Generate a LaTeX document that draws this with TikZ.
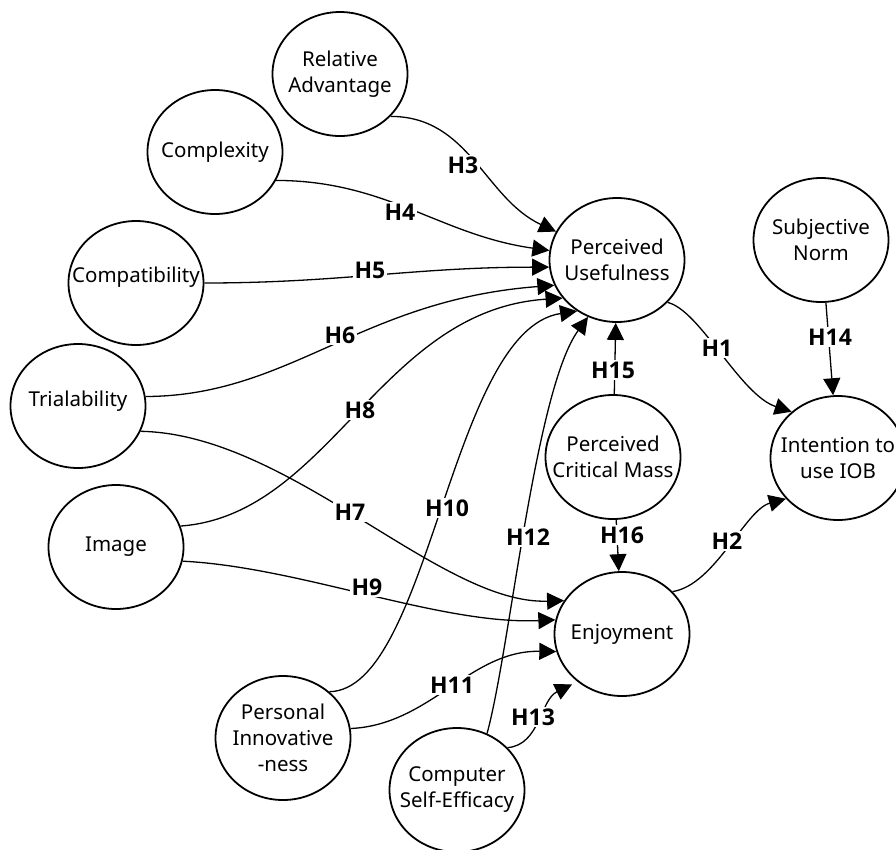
\documentclass[tikz,border=0pt]{standalone}
\usepackage{fontspec}
\setmainfont{Noto Sans}
\newfontfamily\labfont{Open Sans}
\usetikzlibrary{shapes.geometric,arrows.meta}
\begin{document}
\begin{tikzpicture}[x=1pt,y=1pt,
  var/.style={ellipse,draw,line width=1.8pt,minimum width=135pt,minimum height=124pt,inner sep=0pt},
  vtext/.style={align=center,inner sep=0pt,font=\fontsize{20.5}{26}\selectfont},
  hyp/.style={-{Triangle[length=17pt,width=17pt]},line width=1.3pt},
  lab/.style={fill=white,inner sep=1.5pt,font=\labfont\bfseries\fontsize{23}{25}\selectfont}]
\useasboundingbox (0,0) rectangle (896,-849);
% variables
\node[var] (RA) at (340,-74) {};
\node[var] (CX) at (215,-152) {};
\node[var] (CP) at (136,-283) {};
\node[var] (TR) at (78,-406) {};
\node[var] (IM) at (116,-547) {};
\node[var] (PU) at (617,-260) {};
\node[var] (SN) at (821,-240) {};
\node[var] (PCM) at (613,-457) {};
\node[var] (INT) at (838,-458) {};
\node[var] (ENJ) at (622,-634) {};
\node[var] (PI) at (283,-738) {};
\node[var] (CSE) at (457,-790) {};
\node[vtext] (RAt) at (RA) {Relative\\Advantage};
\node[vtext] (CXt) at (CX) {Complexity};
\node[vtext] (CPt) at ([yshift=6pt]CP.center) {Compatibility};
\node[vtext] (TRt) at ([yshift=5pt]TR.center) {Trialability};
\node[vtext] (IMt) at (IM) {Image};
\node[vtext] (PUt) at (PU) {Perceived\\Usefulness};
\node[vtext] (SNt) at (SN) {Subjective\\Norm};
\node[vtext] (PCMt) at (PCM) {Perceived\\Critical Mass};
\node[vtext] (INTt) at (INT) {Intention to\\use IOB};
\node[vtext] (ENJt) at (ENJ) {Enjoyment};
\node[vtext] (PIt) at (PI) {Personal\\Innovative\\-ness};
\node[vtext] (CSEt) at (CSE) {Computer\\Self-Efficacy};
% hypotheses
\draw[hyp] (RA.-40) to[out=0,in=155] (PU.155);
\draw[hyp] (CX.-25) to[out=0,in=172] (PU.172);
\draw[hyp] (CP.east) to[out=0,in=180] (PU.186);
\draw[hyp] (TR.8) .. controls (290,-396) and (360,-300) .. (PU.202);
\draw[hyp] (IM.18) .. controls (330,-515) and (380,-310) .. (PU.215);
\draw[hyp] (TR.-22) .. controls (290,-434) and (440,-605) .. (ENJ.150);
\draw[hyp] (IM.-12) .. controls (300,-567) and (440,-625) .. (ENJ.168);
\draw[hyp] (PI.45) .. controls (430,-690) and (450,-330) .. (PU.232);
\draw[hyp] (PI.8) .. controls (430,-725) and (470,-650) .. (ENJ.195);
\draw[hyp] (CSE.62) .. controls (510,-650) and (535,-390) .. (PU.243);
\draw[hyp,shorten >=6pt] (CSE.40) .. controls (540,-745) and (540,-700) .. (ENJ.227);
\draw[hyp] (PCM) -- (PU);
\draw[hyp] (PCM) -- (ENJ);
\draw[hyp] (PU.-40) .. controls (700,-310) and (740,-395) .. (INT.135);
\draw[hyp] (ENJ.40) .. controls (715,-585) and (745,-510) .. (INT.218);
\draw[hyp] (SN) -- (INT);
% labels
\node[lab] (h3) at (463,-165) {H3};
\node[lab] (h4) at (400,-212) {H4};
\node[lab] (h5) at (370,-270) {H5};
\node[lab] (h6) at (340,-335) {H6};
\node[lab] (h8) at (360,-410) {H8};
\node[lab] (h7) at (350,-512) {H7};
\node[lab] (h10) at (447,-508) {H10};
\node[lab] (h12) at (528,-537) {H12};
\node[lab] (h9) at (367,-587) {H9};
\node[lab] (h11) at (452,-685) {H11};
\node[lab] (h13) at (533,-717) {H13};
\node[lab] (h15) at (613,-370) {H15};
\node[lab] (h16) at (622,-535) {H16};
\node[lab] (h1) at (717,-348) {H1};
\node[lab] (h14) at (830,-337) {H14};
\node[lab] (h2) at (727,-541) {H2};
\end{tikzpicture}
\end{document}
